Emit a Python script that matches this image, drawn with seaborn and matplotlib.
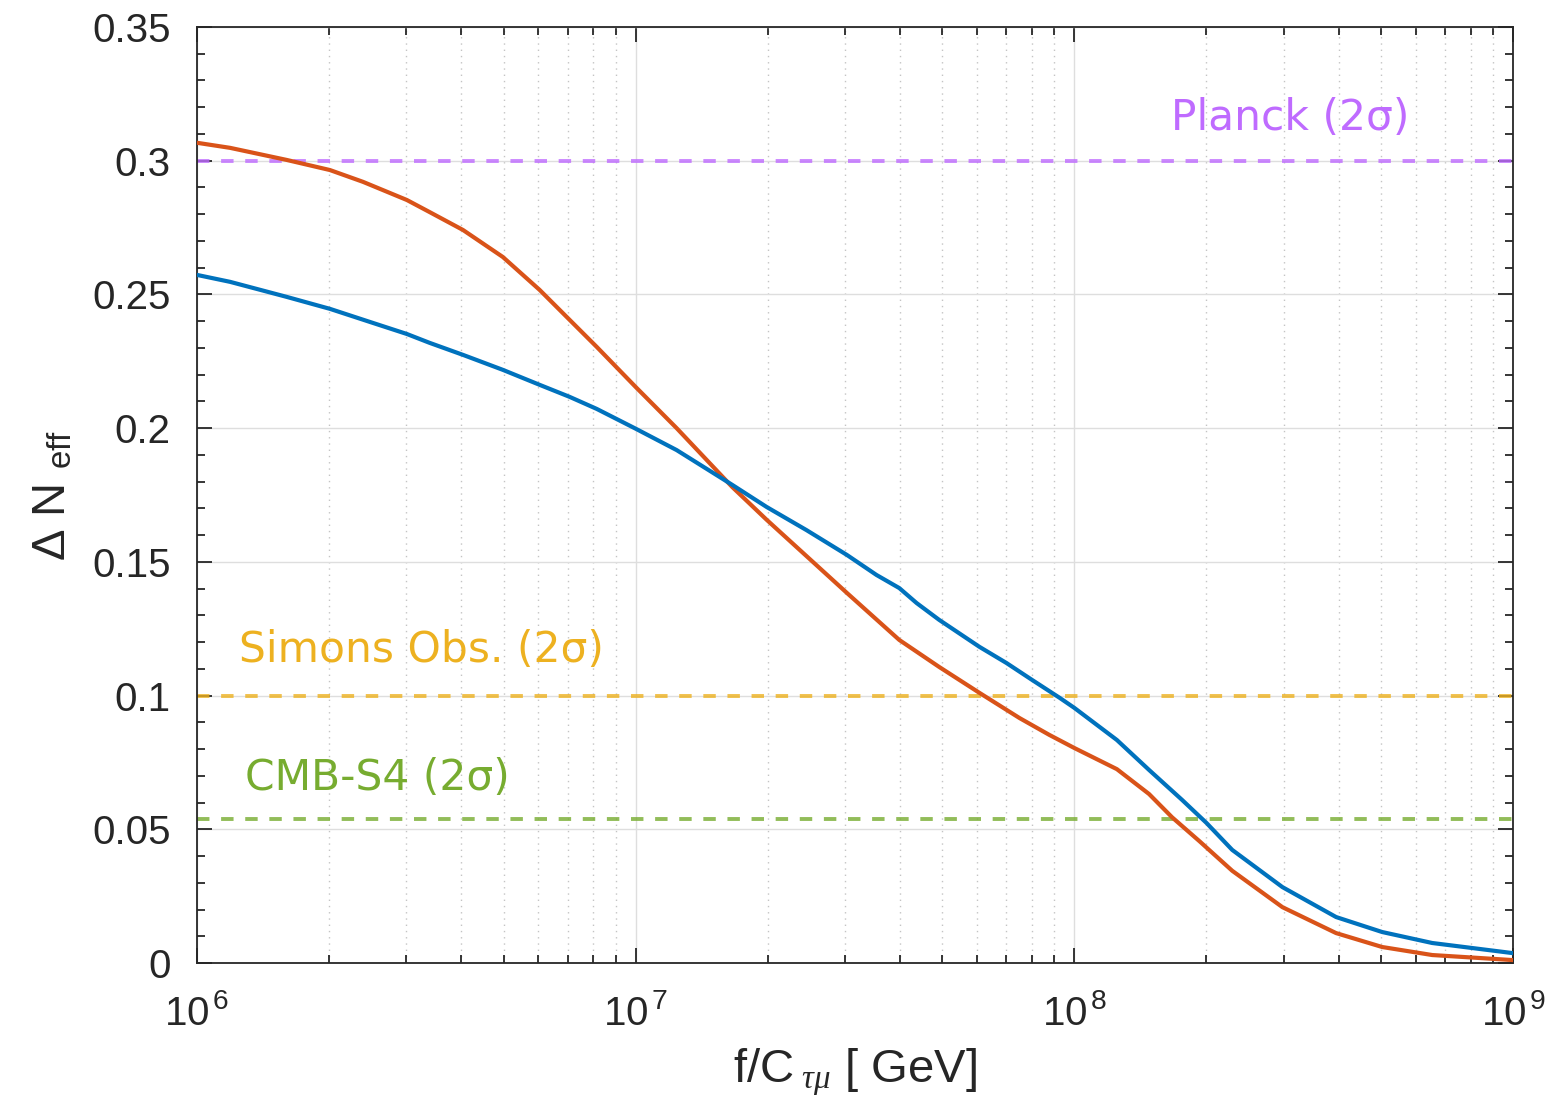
import matplotlib
matplotlib.use("Agg")
import matplotlib.pyplot as plt
import matplotlib.ticker as mticker
import numpy as np
import seaborn as sns

# --- data ---
f_orange = [1e6, 1.19e6, 1.6e6, 2.01e6, 2.39e6, 3.01e6, 3.39e6, 4.04e6, 4.98e6, 6.04e6,
            7.07e6, 8.15e6, 1.0e7, 1.24e7, 1.66e7, 1.99e7, 2.45e7, 3.03e7, 3.99e7,
            4.92e7, 6.08e7, 7.5e7, 8.77e7, 1.0e8, 1.25e8, 1.48e8, 1.67e8, 1.93e8,
            2.29e8, 2.98e8, 3.95e8, 5.03e8, 6.54e8, 1e9]
dn_orange = [0.3067, 0.3048, 0.3003, 0.2965, 0.2921, 0.2853, 0.2808, 0.2741, 0.2640,
             0.2517, 0.2405, 0.2304, 0.2154, 0.2000, 0.1780, 0.1657, 0.1522, 0.1384,
             0.1208, 0.1107, 0.1010, 0.0916, 0.0853, 0.0804, 0.0725, 0.0632, 0.0545,
             0.0455, 0.0345, 0.0209, 0.0112, 0.0060, 0.0030, 0.0011]

f_blue = [1e6, 1.19e6, 1.6e6, 2.01e6, 2.48e6, 3.01e6, 3.39e6, 4.04e6, 4.98e6, 6.04e6,
          7.07e6, 8.15e6, 1.0e7, 1.24e7, 1.66e7, 1.99e7, 2.45e7, 3.03e7, 3.54e7,
          3.99e7, 4.37e7, 4.92e7, 6.08e7, 7.0e7, 8.02e7, 9.25e7, 1.0e8, 1.25e8,
          1.48e8, 1.76e8, 2.0e8, 2.29e8, 2.98e8, 3.95e8, 5.03e8, 6.54e8, 1e9]
dn_blue = [0.2573, 0.2547, 0.2491, 0.2446, 0.2397, 0.2352, 0.2319, 0.2274, 0.2218,
           0.2162, 0.2117, 0.2072, 0.1998, 0.1918, 0.1788, 0.1705, 0.1619, 0.1526,
           0.1451, 0.1402, 0.1346, 0.1283, 0.1182, 0.1122, 0.1058, 0.0992, 0.0954,
           0.0834, 0.0722, 0.0610, 0.0524, 0.0423, 0.0284, 0.0172, 0.0116, 0.0075,
           0.0037]

bound_names = ["Planck (2σ)", "Simons Obs. (2σ)", "CMB-S4 (2σ)"]
bound_values = [0.30, 0.10, 0.054]
bound_colors = ["#BF6BFF", "#EDB120", "#77AC30"]

y_ticks = [0, 0.05, 0.1, 0.15, 0.2, 0.25, 0.3, 0.35]
x_ticks = [1e6, 1e7, 1e8, 1e9]
x_ticklabels = [r"$\mathregular{10^{\,6}}$", r"$\mathregular{10^{\,7}}$",
                r"$\mathregular{10^{\,8}}$", r"$\mathregular{10^{\,9}}$"]

sns.set_style("ticks")
plt.rcParams["font.family"] = ["Liberation Sans", "DejaVu Sans"]
plt.rcParams["mathtext.fontset"] = "custom"
plt.rcParams["mathtext.rm"] = "Liberation Sans"
plt.rcParams["mathtext.it"] = "Liberation Serif:italic"

fig = plt.figure(figsize=(15.53, 11.14), dpi=100)
ax = fig.add_axes([0.1268, 0.1355, 0.8475, 0.8403])
ax.set_xscale("log")

# grid first so lines sit on top
ax.grid(which="major", axis="both", color="#dedede", lw=1.0, ls="-")
ax.grid(which="minor", axis="x", color="#c4c4c4", lw=1.0, ls=(0, (1, 3.5)))
ax.set_axisbelow(True)

# bounds
for name, val, col in zip(bound_names, bound_values, bound_colors):
    ax.axhline(val, color=col, lw=2.8, ls=(0, (3.2, 3.0)), alpha=0.8, zorder=2)

sns.lineplot(x=f_orange, y=dn_orange, color="#D95319", lw=3.0, ax=ax, zorder=3)
sns.lineplot(x=f_blue, y=dn_blue, color="#0072BD", lw=3.0, ax=ax, zorder=4)

txt_kw = dict(fontsize=30.5, family="DejaVu Sans", va="baseline", ha="left")
ax.text(1.66e8, 0.3115, bound_names[0], color=bound_colors[0], **txt_kw)
ax.text(1.25e6, 0.1126, bound_names[1], color=bound_colors[1], **txt_kw)
ax.text(1.29e6, 0.0647, bound_names[2], color=bound_colors[2], **txt_kw)

ax.set_xlim(1e6, 1e9)
ax.set_ylim(0, 0.35)
ax.set_yticks(y_ticks)
ax.yaxis.set_major_formatter(mticker.FuncFormatter(lambda v, p: f"{v:g}"))
ax.yaxis.set_minor_locator(mticker.MultipleLocator(0.01))
ax.set_xticks(x_ticks)
ax.set_xticklabels(x_ticklabels)
ax.xaxis.set_minor_locator(mticker.LogLocator(base=10, subs=np.arange(2, 10)))
ax.xaxis.set_minor_formatter(mticker.NullFormatter())

ax.tick_params(which="both", direction="in", top=True, right=True, colors="#262626",
               width=1.3)
ax.tick_params(which="major", length=10.5)
ax.tick_params(which="minor", length=5.5)
ax.tick_params(axis="y", which="major", labelsize=29, pad=19)
ax.tick_params(axis="x", which="major", labelsize=29, pad=22)
for s in ax.spines.values():
    s.set_color("#262626")
    s.set_linewidth(1.3)

ax.set_xlabel(r"f/C$_{\,\,\tau\mu}$ [ GeV]", fontsize=34, color="#262626", labelpad=10)
ax.set_ylabel(r"$\Delta$ N $_{\mathregular{eff}}$", fontsize=34, color="#262626",
              labelpad=12)

fig.savefig("out.png", dpi=100)
